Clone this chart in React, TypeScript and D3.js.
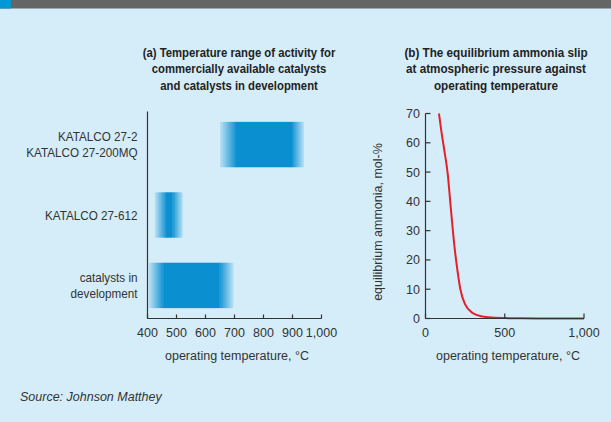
import * as d3 from "d3";
import React from "react";

// panel (a): catalyst activity ranges, °C
const categories = ["KATALCO 27-2|KATALCO 27-200MQ", "KATALCO 27-612", "catalysts in|development"];
const fadeStart = [650, 425, 405];
const solidStart = [705, 465, 455];
const solidEnd = [898, 486, 648];
const fadeEnd = [940, 522, 697];
const tempTicksA = [400, 500, 600, 700, 800, 900, 1000];

// panel (b): equilibrium ammonia at 1 atm
const slipTemp = [85, 100, 120, 140, 160, 180, 200, 220, 250, 300, 350, 400, 500, 600, 800, 1000];
const slipValue = [70, 64, 57, 49.5, 37.5, 26, 17, 10, 4.8, 1.8, 0.8, 0.4, 0.13, 0.05, 0.01, 0];
const tempTicksB = [0, 500, 1000];
const slipTicks = [0, 10, 20, 30, 40, 50, 60, 70];

const titleA = ["(a) Temperature range of activity for", "commercially available catalysts", "and catalysts in development"];
const titleB = ["(b) The equilibrium ammonia slip", "at atmospheric pressure against", "operating temperature"];

const font = "'Liberation Sans', Arial, sans-serif";
const ink = "#333";
const blue = "#0a8fd1";

// squeeze text horizontally to mimic the condensed face of the original
const squeeze = (x: number, y: number, k: number) => `translate(${x},${y}) scale(${k},1)`;

export default function App() {
  const width = 611;
  const height = 422;
  const fmt = d3.format(",");

  const xA = d3.scaleLinear().domain([400, 1000]).range([147.5, 321.5]);
  const yA = d3.scaleBand().domain(categories).range([112, 318]).paddingInner(0.355).paddingOuter(0.14);

  const xB = d3.scaleLinear().domain([0, 1000]).range([425.5, 584]);
  const yB = d3.scaleLinear().domain([0, 70]).range([318.5, 113.5]);

  const line = d3
    .line<number>()
    .x((d, i) => xB(slipTemp[i]))
    .y((d) => yB(d))
    .curve(d3.curveMonotoneX);

  return (
    <svg
      width={width}
      height={height}
      style={{ position: "absolute", left: 0, top: 0, fontFamily: font }}
    >
      <defs>
        <linearGradient id="fadeL" x1="0" x2="1" y1="0" y2="0">
          <stop offset="0%" stopColor={blue} stopOpacity={0.12} />
          <stop offset="100%" stopColor={blue} stopOpacity={0.95} />
        </linearGradient>
        <linearGradient id="fadeR" x1="0" x2="1" y1="0" y2="0">
          <stop offset="0%" stopColor={blue} stopOpacity={0.95} />
          <stop offset="100%" stopColor={blue} stopOpacity={0.12} />
        </linearGradient>
      </defs>
      <rect x={0} y={0} width={width} height={height} fill="#d5edf9" />
      <rect x={0} y={0} width={width} height={8.5} fill="#656565" />
      <rect x={0} y={0} width={11} height={8.5} fill="#0099d5" />

      {/* titles */}
      <g fontWeight="bold" fontSize={13} fill="#222" textAnchor="middle">
        {titleA.map((t, i) => (
          <text key={"a" + i} transform={squeeze(239, 56.5 + i * 16.8, 0.87)}>{t}</text>
        ))}
        {titleB.map((t, i) => (
          <text key={"b" + i} transform={squeeze(496, 56.5 + i * 16.8, 0.9)}>{t}</text>
        ))}
      </g>

      {/* panel (a) bars */}
      {categories.map((c, i) => {
        const y = yA(c)!;
        const h = yA.bandwidth();
        return (
          <g key={c}>
            <rect x={xA(fadeStart[i])} y={y} width={xA(solidStart[i]) - xA(fadeStart[i])} height={h} fill="url(#fadeL)" />
            <rect x={xA(solidStart[i]) - 0.3} y={y} width={xA(solidEnd[i]) - xA(solidStart[i]) + 0.6} height={h} fill={blue} />
            <rect x={xA(solidEnd[i])} y={y} width={xA(fadeEnd[i]) - xA(solidEnd[i])} height={h} fill="url(#fadeR)" />
          </g>
        );
      })}

      {/* panel (a) category labels */}
      <g fontSize={13} fill={ink} textAnchor="end">
        {categories.map((c) => {
          const lines = c.split("|");
          const cy = yA(c)! + yA.bandwidth() / 2;
          const lh = 15.5;
          return lines.map((l, j) => (
            <text key={c + j} transform={squeeze(137.5, cy + 4.6 + (j - (lines.length - 1) / 2) * lh, 0.9)}>{l}</text>
          ));
        })}
      </g>

      {/* panel (a) axes */}
      <g stroke={ink} strokeWidth={1.2} fill="none">
        <line x1={147.5} x2={147.5} y1={111.5} y2={318.5} />
        <line x1={147.5} x2={321.5} y1={318.5} y2={318.5} />
        {tempTicksA.map((t) => (
          <line key={t} x1={xA(t)} x2={xA(t)} y1={318.5} y2={314.5} />
        ))}
      </g>
      <g fontSize={12.5} fill={ink} textAnchor="middle">
        {tempTicksA.map((t) => (
          <text key={t} x={xA(t)} y={336.5}>{fmt(t)}</text>
        ))}
        <text x={237} y={360}>operating temperature, °C</text>
      </g>

      {/* panel (b) */}
      <path d={line(slipValue) ?? ""} fill="none" stroke="#e5202a" strokeWidth={2} />
      <g stroke={ink} strokeWidth={1.2} fill="none">
        <line x1={xB(0)} x2={xB(0)} y1={yB(70)} y2={yB(0)} />
        <line x1={xB(0)} x2={xB(1000)} y1={yB(0)} y2={yB(0)} />
        {slipTicks.map((t) => (
          <line key={t} x1={xB(0)} x2={xB(0) + 5} y1={yB(t)} y2={yB(t)} />
        ))}
        {tempTicksB.map((t) => (
          <line key={t} x1={xB(t)} x2={xB(t)} y1={yB(0)} y2={yB(0) - 5} />
        ))}
      </g>
      <g fontSize={12.5} fill={ink}>
        {slipTicks.map((t) => (
          <text key={t} x={420} y={yB(t) + 4.5} textAnchor="end">{t}</text>
        ))}
        {tempTicksB.map((t) => (
          <text key={t} x={xB(t)} y={336.5} textAnchor="middle">{fmt(t)}</text>
        ))}
        <text x={508} y={360} textAnchor="middle">operating temperature, °C</text>
        <text transform={`translate(382,222) rotate(-90)`} textAnchor="middle">equilibrium ammonia, mol-%</text>
      </g>

      <text x={20} y={401} fontSize={12.5} fontStyle="italic" fill={ink}>Source: Johnson Matthey</text>
    </svg>
  );
}
